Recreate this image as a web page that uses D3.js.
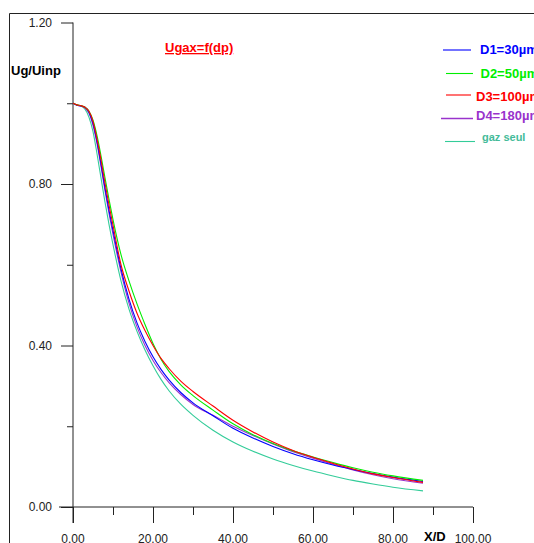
<!DOCTYPE html>
<html><head><meta charset="utf-8">
<script src="https://d3js.org/d3.v7.min.js"></script>
<style>body{margin:0;background:#fff;overflow:hidden}svg{display:block}text{font-family:Arial,"Liberation Sans",sans-serif}</style>
</head><body>
<script>
const xValues = [0,1,2,3,4,5,6,7,8,9,10,12,14,16,18,20,22,24,27,30,35,40,45,50,55,60,65,70,75,80,87.5];
const d1 = [1.0,0.995,0.993,0.99,0.978,0.95,0.905,0.85,0.79,0.735,0.685,0.59,0.515,0.456,0.41,0.372,0.341,0.315,0.283,0.258,0.226,0.195,0.171,0.15,0.132,0.117,0.104,0.093,0.083,0.074,0.063];
const d2 = [1.0,0.996,0.994,0.99,0.98,0.958,0.92,0.87,0.815,0.762,0.712,0.625,0.56,0.503,0.452,0.405,0.366,0.336,0.302,0.276,0.24,0.206,0.179,0.157,0.139,0.124,0.11,0.097,0.086,0.077,0.066];
const d3v = [1.0,0.996,0.994,0.99,0.98,0.955,0.912,0.86,0.802,0.748,0.698,0.6,0.535,0.48,0.437,0.4,0.368,0.343,0.311,0.286,0.25,0.215,0.186,0.161,0.14,0.123,0.108,0.094,0.082,0.073,0.061];
const d4 = [1.0,0.995,0.993,0.988,0.975,0.945,0.9,0.843,0.783,0.727,0.675,0.582,0.505,0.446,0.4,0.363,0.333,0.308,0.278,0.254,0.227,0.2,0.177,0.156,0.137,0.121,0.106,0.092,0.08,0.07,0.059];
const gazSeul = [1.0,0.996,0.993,0.985,0.965,0.93,0.875,0.815,0.755,0.70,0.65,0.56,0.49,0.435,0.389,0.35,0.316,0.288,0.254,0.227,0.19,0.161,0.138,0.119,0.103,0.089,0.077,0.066,0.057,0.049,0.04];
const seriesNames = ["D1=30µm","D2=50µm","D3=100µm","D4=180µm","gaz seul"];
const seriesColors = ["#0000ff","#00ee00","#ff0000","#9933cc","#33cc99"];
const xTicks = [0,20,40,60,80,100];
const yTicks = [0,0.4,0.8,1.2];

const W=534,H=543;
const svg=d3.select("body").append("svg").attr("width",W).attr("height",H);
const x=d3.scaleLinear().domain([0,100]).range([73,473]);
const y=d3.scaleLinear().domain([0,1.2]).range([507,22.5]);
const ink="#222";

// frame
svg.append("path").attr("d",`M9.5,${H+5}V13.5H${W+5}`).attr("fill","none").attr("stroke",ink).attr("stroke-width",1);

// axes
const gx=svg.append("g").attr("transform",`translate(0,${y(0)})`)
  .call(d3.axisBottom(x).tickValues(d3.range(0,101,10)).tickSize(0).tickFormat(""));
gx.select(".domain").remove();
gx.append("line").attr("x1",x(0)-14).attr("x2",x(100)).attr("stroke",ink);
gx.selectAll(".tick line").attr("y2",d=>d%20===0?16:8).attr("stroke",ink);
const gy=svg.append("g").attr("transform",`translate(${x(0)},0)`)
  .call(d3.axisLeft(y).tickValues(d3.range(0,1.21,0.2).map(v=>+v.toFixed(2))).tickSize(0).tickFormat(""));
gy.select(".domain").remove();
gy.append("line").attr("y1",y(1.2)).attr("y2",y(0)+16).attr("stroke",ink);
gy.selectAll(".tick line").attr("x2",d=>(Math.round(d*10)%4===0)?-12:-6).attr("stroke",ink);

svg.append("g").selectAll("text").data(yTicks).join("text")
  .attr("x",52).attr("y",d=>y(d)).attr("dy","0.35em").attr("text-anchor","end")
  .attr("font-size",12).attr("fill","#222").text(d=>d.toFixed(2));
svg.append("g").selectAll("text").data(xTicks).join("text")
  .attr("x",d=>x(d)).attr("y",543).attr("text-anchor","middle")
  .attr("font-size",12).attr("fill","#222").text(d=>d.toFixed(2));

svg.append("text").attr("x",11).attr("y",74.5).attr("font-size",13).attr("font-weight","bold").text("Ug/Uinp");
svg.append("text").attr("x",424).attr("y",541).attr("font-size",13).attr("font-weight","bold").text("X/D");
svg.append("text").attr("x",165).attr("y",52).attr("font-size",13).attr("font-weight","bold")
  .attr("fill","#ff0000").attr("text-decoration","underline").text("Ugax=f(dp)");

// curves
const all=[d1,d2,d3v,d4,gazSeul];
const line=d3.line().x((d,i)=>x(xValues[i])).y(d=>y(d)).curve(d3.curveMonotoneX);
const order=[4,3,0,1,2];
order.forEach(k=>{
  svg.append("path").attr("d",line(all[k])).attr("fill","none").attr("stroke",seriesColors[k]).attr("stroke-width",1.1);
});

// legend
const leg=[
  {lx1:443,lx2:471,ly:50,tx:480,ty:54,fs:13},
  {lx1:446,lx2:473,ly:73.5,tx:480.5,ty:77.5,fs:13},
  {lx1:446,lx2:471,ly:95,tx:476,ty:100.5,fs:13},
  {lx1:441,lx2:473,ly:118.5,tx:476,ty:120,fs:13},
  {lx1:445,lx2:475,ly:141.5,tx:482,ty:141,fs:11}
];
leg.forEach((p,i)=>{
  svg.append("line").attr("x1",p.lx1).attr("x2",p.lx2).attr("y1",p.ly).attr("y2",p.ly)
    .attr("stroke",seriesColors[i]).attr("stroke-width",i===3?1.5:1.1);
  svg.append("text").attr("x",p.tx).attr("y",p.ty).attr("font-size",p.fs).attr("font-weight","bold")
    .attr("fill",i===4?"#44bb99":seriesColors[i]).text(seriesNames[i]);
});
</script>
</body></html>
